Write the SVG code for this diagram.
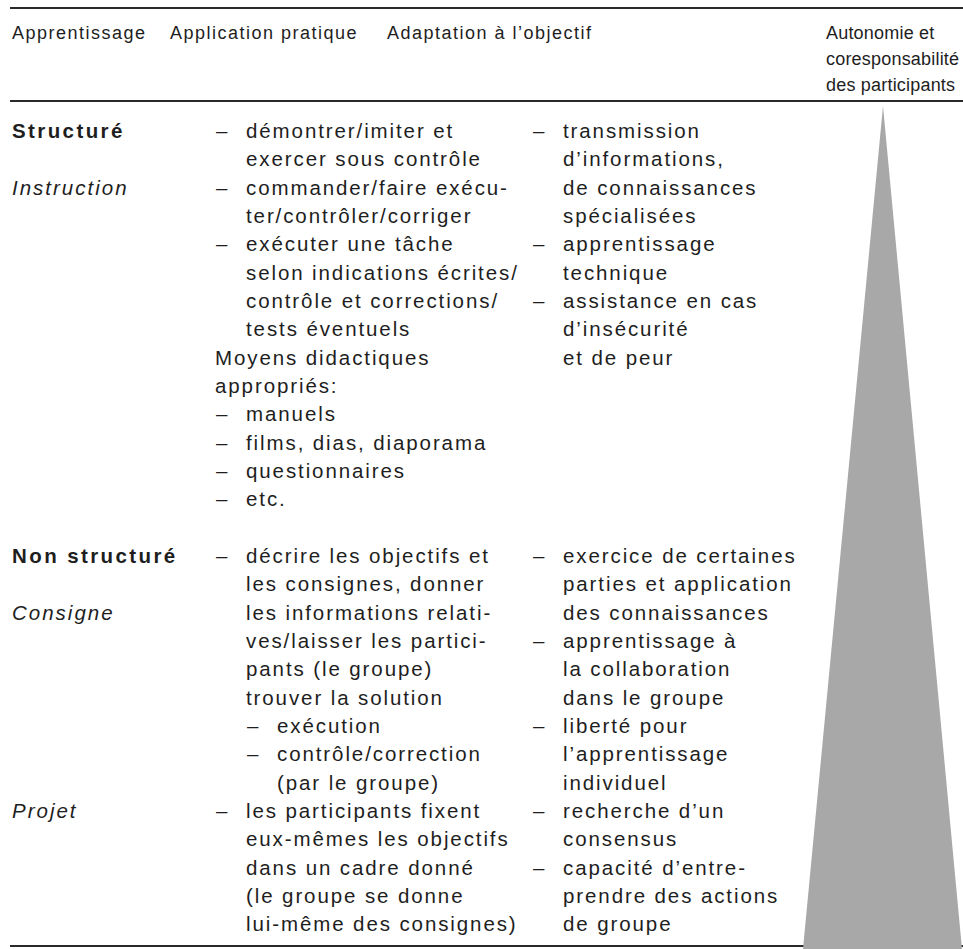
<svg xmlns="http://www.w3.org/2000/svg" width="963" height="949" viewBox="0 0 963 949">
<style>
.rule{stroke:#2a2a2a;stroke-width:2;fill:none}
.h{font-family:"Liberation Sans",Arial,sans-serif;font-size:18px;letter-spacing:1.5px;fill:#1e1e1e}
.hn{letter-spacing:0.2px}
.t{font-family:"Liberation Sans",Arial,sans-serif;font-size:20.5px;letter-spacing:1.9px;fill:#1e1e1e}
.b{font-weight:bold;letter-spacing:2.4px}
.i{font-style:italic;letter-spacing:2px}
.tri{fill:#a8a8a8}
</style>
<rect width="963" height="949" fill="#ffffff"/>
<g id="rules">
<line class="rule" x1="10" y1="8" x2="963" y2="8"/>
<line class="rule" x1="10" y1="101" x2="963" y2="101"/>
<line class="rule" x1="10" y1="946" x2="963" y2="946"/>
</g>
<g id="triangle">
<polygon class="tri" points="883,106 803,949 962,949"/>
</g>
<g id="header">
<text class="h" x="12" y="39">Apprentissage</text>
<text class="h" x="170" y="39">Application pratique</text>
<text class="h" x="387" y="39">Adaptation à l’objectif</text>
<text class="h hn" x="826" y="39">Autonomie et</text>
<text class="h hn" x="826" y="65">coresponsabilité</text>
<text class="h hn" x="826" y="91">des participants</text>
</g>
<g id="col-apprentissage">
<text class="t b" x="12" y="138">Structuré</text>
<text class="t i" x="12" y="194.7">Instruction</text>
<text class="t b" x="12" y="563">Non structuré</text>
<text class="t i" x="12" y="619.6">Consigne</text>
<text class="t i" x="12" y="818">Projet</text>
</g>
<g id="col-application">
<text class="t" x="216" y="138">–</text><text class="t" x="246" y="138">démontrer/imiter et</text>
<text class="t" x="246" y="166.3">exercer sous contrôle</text>
<text class="t" x="216" y="194.7">–</text><text class="t" x="246" y="194.7">commander/faire exécu-</text>
<text class="t" x="246" y="223">ter/contrôler/corriger</text>
<text class="t" x="216" y="251.3">–</text><text class="t" x="246" y="251.3">exécuter une tâche</text>
<text class="t" x="246" y="279.7">selon indications écrites/</text>
<text class="t" x="246" y="308">contrôle et corrections/</text>
<text class="t" x="246" y="336.3">tests éventuels</text>
<text class="t" x="215" y="364.6">Moyens didactiques</text>
<text class="t" x="215" y="393">appropriés:</text>
<text class="t" x="216" y="421.3">–</text><text class="t" x="246" y="421.3">manuels</text>
<text class="t" x="216" y="449.6">–</text><text class="t" x="246" y="449.6">films, dias, diaporama</text>
<text class="t" x="216" y="478">–</text><text class="t" x="246" y="478">questionnaires</text>
<text class="t" x="216" y="506.3">–</text><text class="t" x="246" y="506.3">etc.</text>
<text class="t" x="216" y="563">–</text><text class="t" x="246" y="563">décrire les objectifs et</text>
<text class="t" x="246" y="591.3">les consignes, donner</text>
<text class="t" x="246" y="619.6">les informations relati-</text>
<text class="t" x="246" y="648">ves/laisser les partici-</text>
<text class="t" x="246" y="676.3">pants (le groupe)</text>
<text class="t" x="246" y="704.6">trouver la solution</text>
<text class="t" x="247" y="733">–</text><text class="t" x="277" y="733">exécution</text>
<text class="t" x="247" y="761.3">–</text><text class="t" x="277" y="761.3">contrôle/correction</text>
<text class="t" x="277" y="789.6">(par le groupe)</text>
<text class="t" x="216" y="818">–</text><text class="t" x="246" y="818">les participants fixent</text>
<text class="t" x="246" y="846.3">eux-mêmes les objectifs</text>
<text class="t" x="246" y="874.6">dans un cadre donné</text>
<text class="t" x="246" y="903">(le groupe se donne</text>
<text class="t" x="246" y="931.3">lui-même des consignes)</text>
</g>
<g id="col-adaptation">
<text class="t" x="533" y="138">–</text><text class="t" x="563" y="138">transmission</text>
<text class="t" x="563" y="166.3">d’informations,</text>
<text class="t" x="563" y="194.7">de connaissances</text>
<text class="t" x="563" y="223">spécialisées</text>
<text class="t" x="533" y="251.3">–</text><text class="t" x="563" y="251.3">apprentissage</text>
<text class="t" x="563" y="279.7">technique</text>
<text class="t" x="533" y="308">–</text><text class="t" x="563" y="308">assistance en cas</text>
<text class="t" x="563" y="336.3">d’insécurité</text>
<text class="t" x="563" y="364.6">et de peur</text>
<text class="t" x="533" y="563">–</text><text class="t" x="563" y="563">exercice de certaines</text>
<text class="t" x="563" y="591.3">parties et application</text>
<text class="t" x="563" y="619.6">des connaissances</text>
<text class="t" x="533" y="648">–</text><text class="t" x="563" y="648">apprentissage à</text>
<text class="t" x="563" y="676.3">la collaboration</text>
<text class="t" x="563" y="704.6">dans le groupe</text>
<text class="t" x="533" y="733">–</text><text class="t" x="563" y="733">liberté pour</text>
<text class="t" x="563" y="761.3">l’apprentissage</text>
<text class="t" x="563" y="789.6">individuel</text>
<text class="t" x="533" y="818">–</text><text class="t" x="563" y="818">recherche d’un</text>
<text class="t" x="563" y="846.3">consensus</text>
<text class="t" x="533" y="874.6">–</text><text class="t" x="563" y="874.6">capacité d’entre-</text>
<text class="t" x="563" y="903">prendre des actions</text>
<text class="t" x="563" y="931.3">de groupe</text>
</g>
</svg>
